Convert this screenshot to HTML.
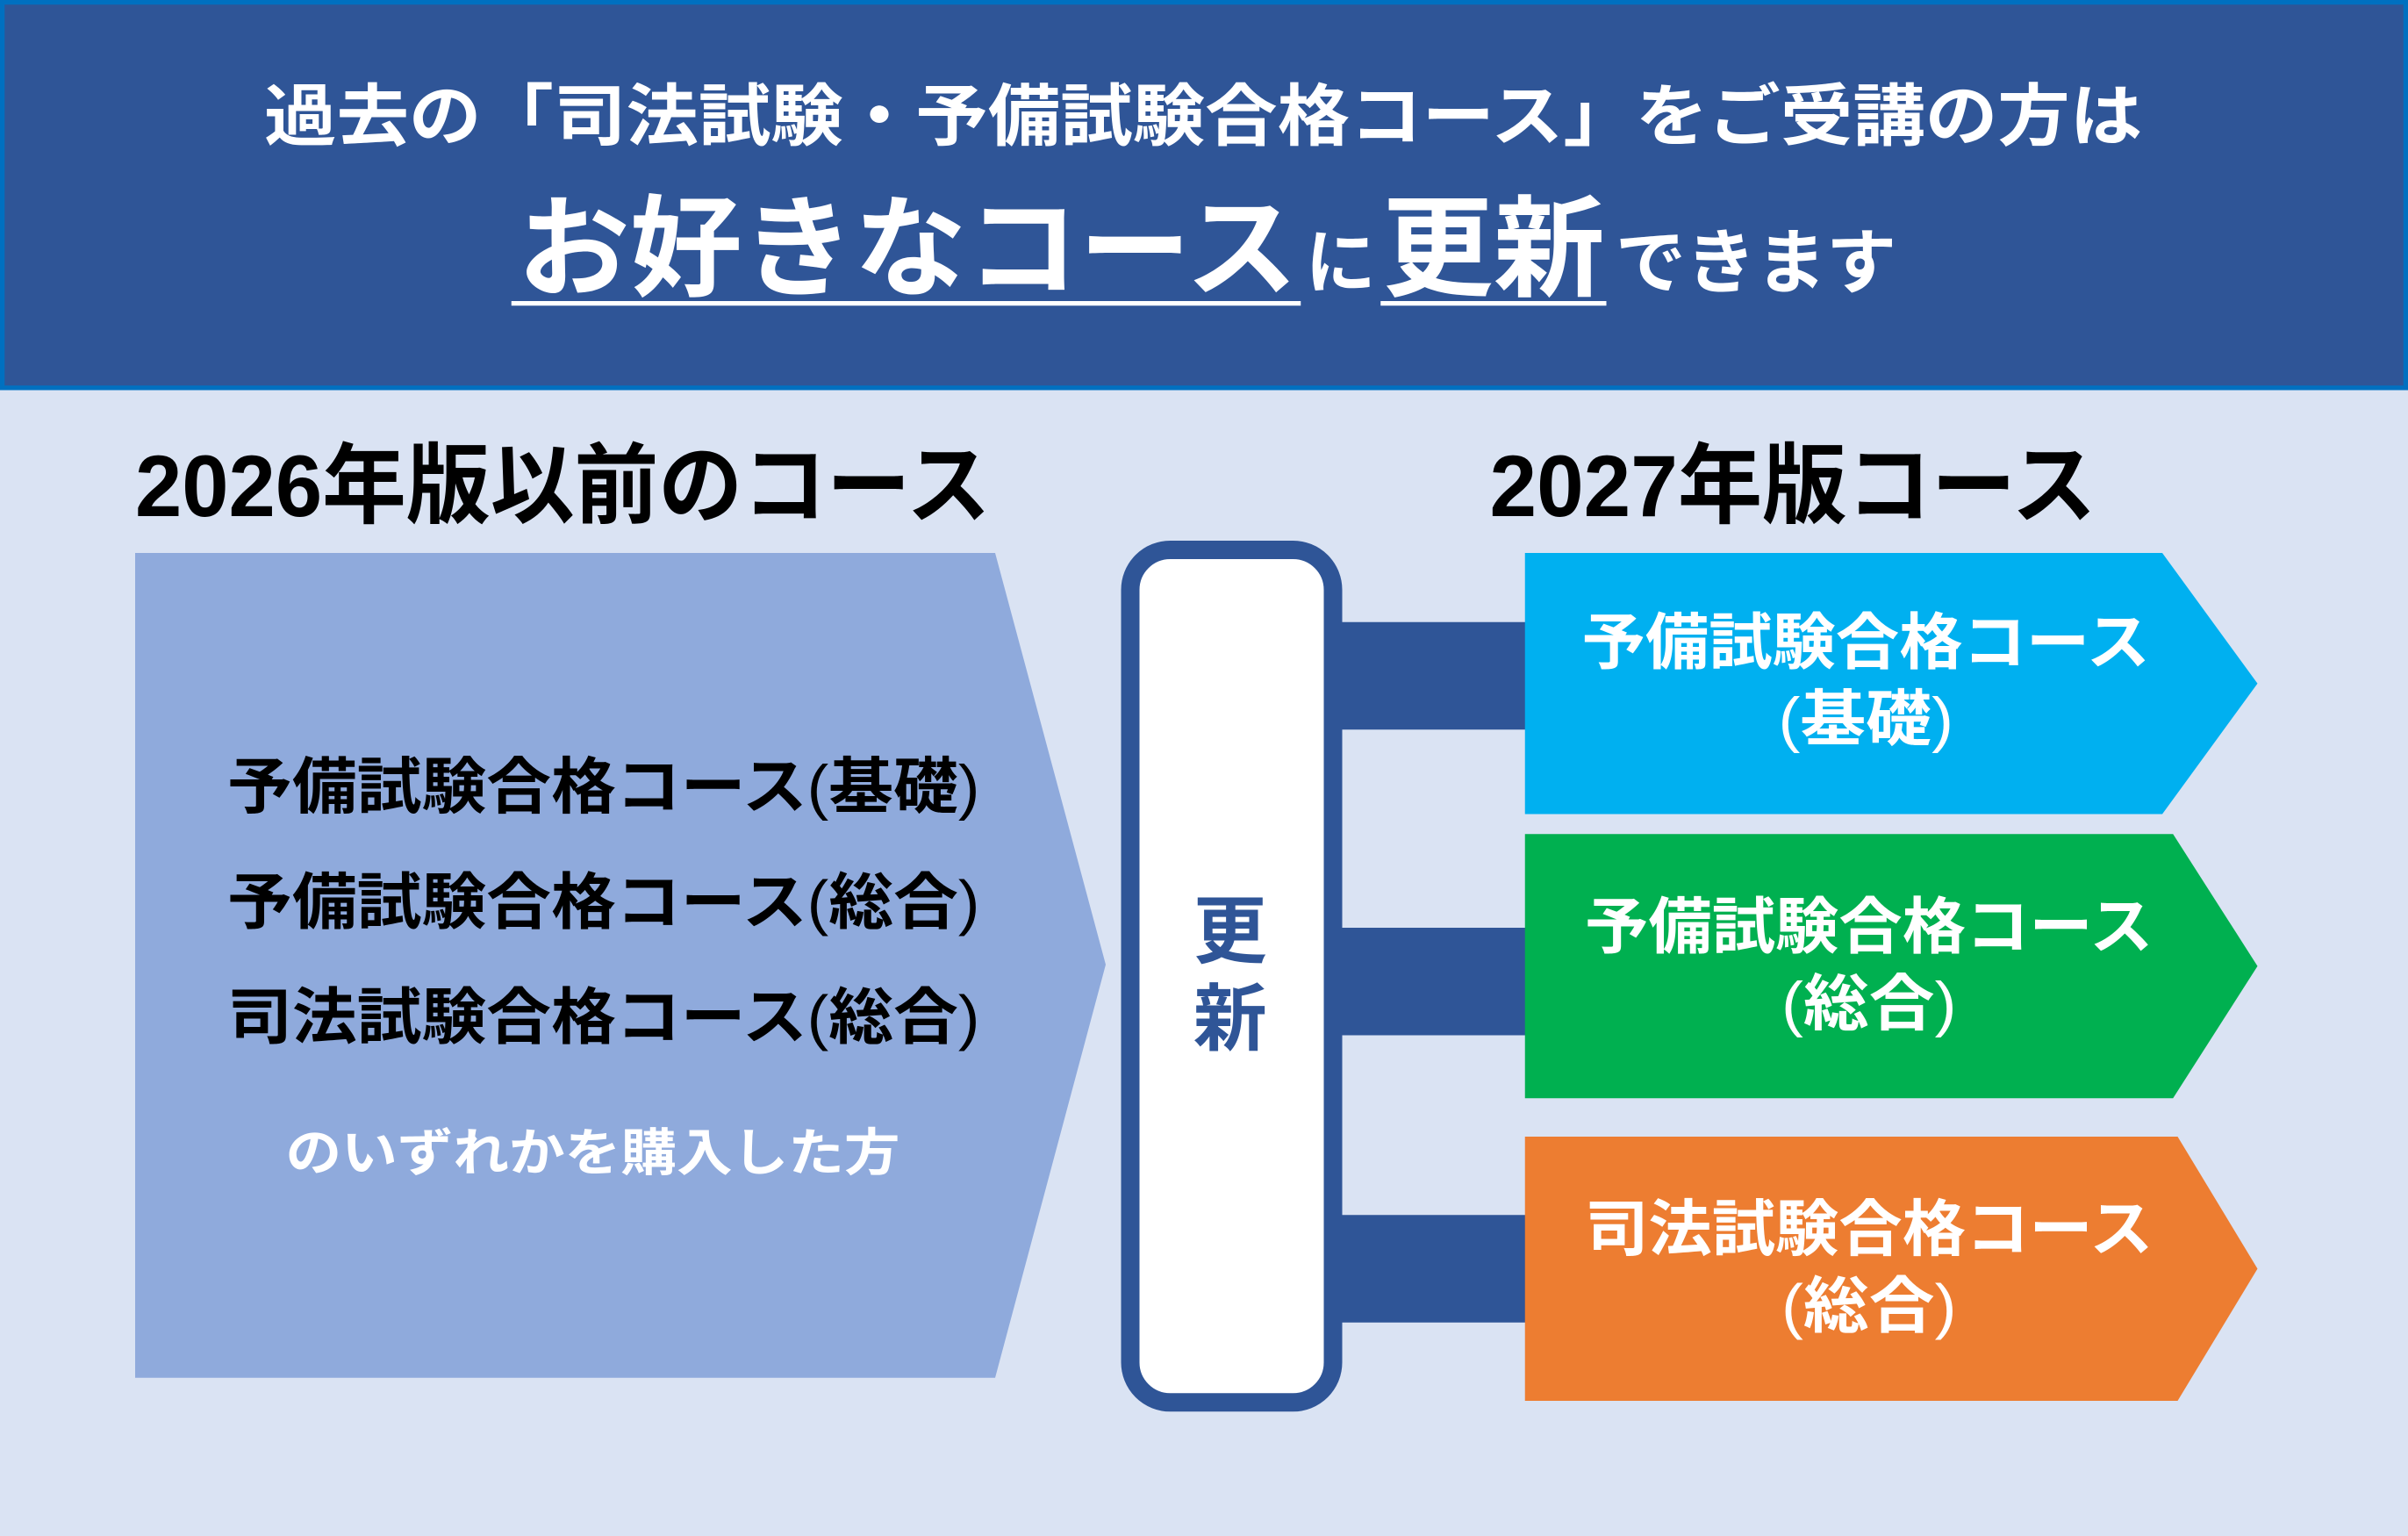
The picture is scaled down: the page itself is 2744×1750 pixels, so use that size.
<!DOCTYPE html>
<html><head><meta charset="utf-8"><style>
html,body{margin:0;padding:0;background:#dae3f3;}
svg{display:block;}
text{font-family:"Liberation Sans","Noto Sans CJK JP",sans-serif;font-weight:bold;}
.p{font-weight:normal;}
</style></head><body>
<svg width="2744" height="1750" viewBox="0 0 1568 1000" preserveAspectRatio="none" xmlns="http://www.w3.org/2000/svg">
<rect x="0" y="0" width="1568" height="1000" fill="#dae3f3"/>
<rect x="1.5" y="1.5" width="1565" height="251" fill="#2f5597" stroke="#0070c0" stroke-width="3"/>
<text x="172" y="91" font-size="44" fill="#fff" textLength="1223" lengthAdjust="spacingAndGlyphs">過去の「司法試験・予備試験合格コース」をご受講の方は</text>
<text y="187" fill="#fff">
<tspan x="337" font-size="72" textLength="508" lengthAdjust="spacingAndGlyphs">お好きなコース</tspan>
<tspan x="850" font-size="46" textLength="46" lengthAdjust="spacingAndGlyphs">に</tspan>
<tspan x="900" font-size="72" textLength="145" lengthAdjust="spacingAndGlyphs">更新</tspan>
<tspan x="1052" font-size="46" textLength="183" lengthAdjust="spacingAndGlyphs">できます</tspan>
</text>
<rect x="333" y="196" width="514" height="3" fill="#fff"/>
<rect x="899" y="196" width="147" height="3" fill="#fff"/>

<text x="88" y="336" font-size="57" fill="#000" textLength="557" lengthAdjust="spacingAndGlyphs">2026年版以前のコース</text>
<text x="970" y="336" font-size="57" fill="#000" textLength="395" lengthAdjust="spacingAndGlyphs">2027年版コース</text>

<polygon points="88,360 648,360 720,628 648,897 88,897" fill="#8faadc"/>
<g font-size="40" fill="#000">
<text x="148" y="526" textLength="490" lengthAdjust="spacingAndGlyphs">予備試験合格コース<tspan class="p">(</tspan>基礎<tspan class="p">)</tspan></text>
<text x="148" y="601" textLength="490" lengthAdjust="spacingAndGlyphs">予備試験合格コース<tspan class="p">(</tspan>総合<tspan class="p">)</tspan></text>
<text x="148" y="676" textLength="490" lengthAdjust="spacingAndGlyphs">司法試験合格コース<tspan class="p">(</tspan>総合<tspan class="p">)</tspan></text>
</g>
<text x="186" y="762" font-size="33" fill="#fff" textLength="400" lengthAdjust="spacingAndGlyphs">のいずれかを購入した方</text>

<rect x="868" y="405" width="126" height="70" fill="#2f5597"/>
<rect x="868" y="604" width="126" height="70" fill="#2f5597"/>
<rect x="868" y="791" width="126" height="70" fill="#2f5597"/>
<rect x="736" y="358" width="132" height="555" rx="26" fill="#fff" stroke="#2f5597" stroke-width="12"/>
<text x="801" y="623" font-size="48" fill="#2f5597" text-anchor="middle">更</text>
<text x="801" y="680" font-size="48" fill="#2f5597" text-anchor="middle">新</text>

<polygon points="993,360 1408,360 1470,445 1408,530 993,530" fill="#00b0f0"/>
<polygon points="993,543 1415,543 1470,629 1415,715 993,715" fill="#00b050"/>
<polygon points="993,740 1418,740 1470,826 1418,912 993,912" fill="#ed7d31"/>
<g font-size="40" fill="#fff">
<text x="1030" y="432" textLength="370" lengthAdjust="spacingAndGlyphs">予備試験合格コース</text>
<text x="1158" y="482" textLength="114" lengthAdjust="spacingAndGlyphs"><tspan class="p">(</tspan>基礎<tspan class="p">)</tspan></text>
<text x="1032" y="617" textLength="370" lengthAdjust="spacingAndGlyphs">予備試験合格コース</text>
<text x="1160" y="667" textLength="114" lengthAdjust="spacingAndGlyphs"><tspan class="p">(</tspan>総合<tspan class="p">)</tspan></text>
<text x="1032" y="814" textLength="370" lengthAdjust="spacingAndGlyphs">司法試験合格コース</text>
<text x="1160" y="864" textLength="114" lengthAdjust="spacingAndGlyphs"><tspan class="p">(</tspan>総合<tspan class="p">)</tspan></text>
</g>
</svg>
</body></html>
